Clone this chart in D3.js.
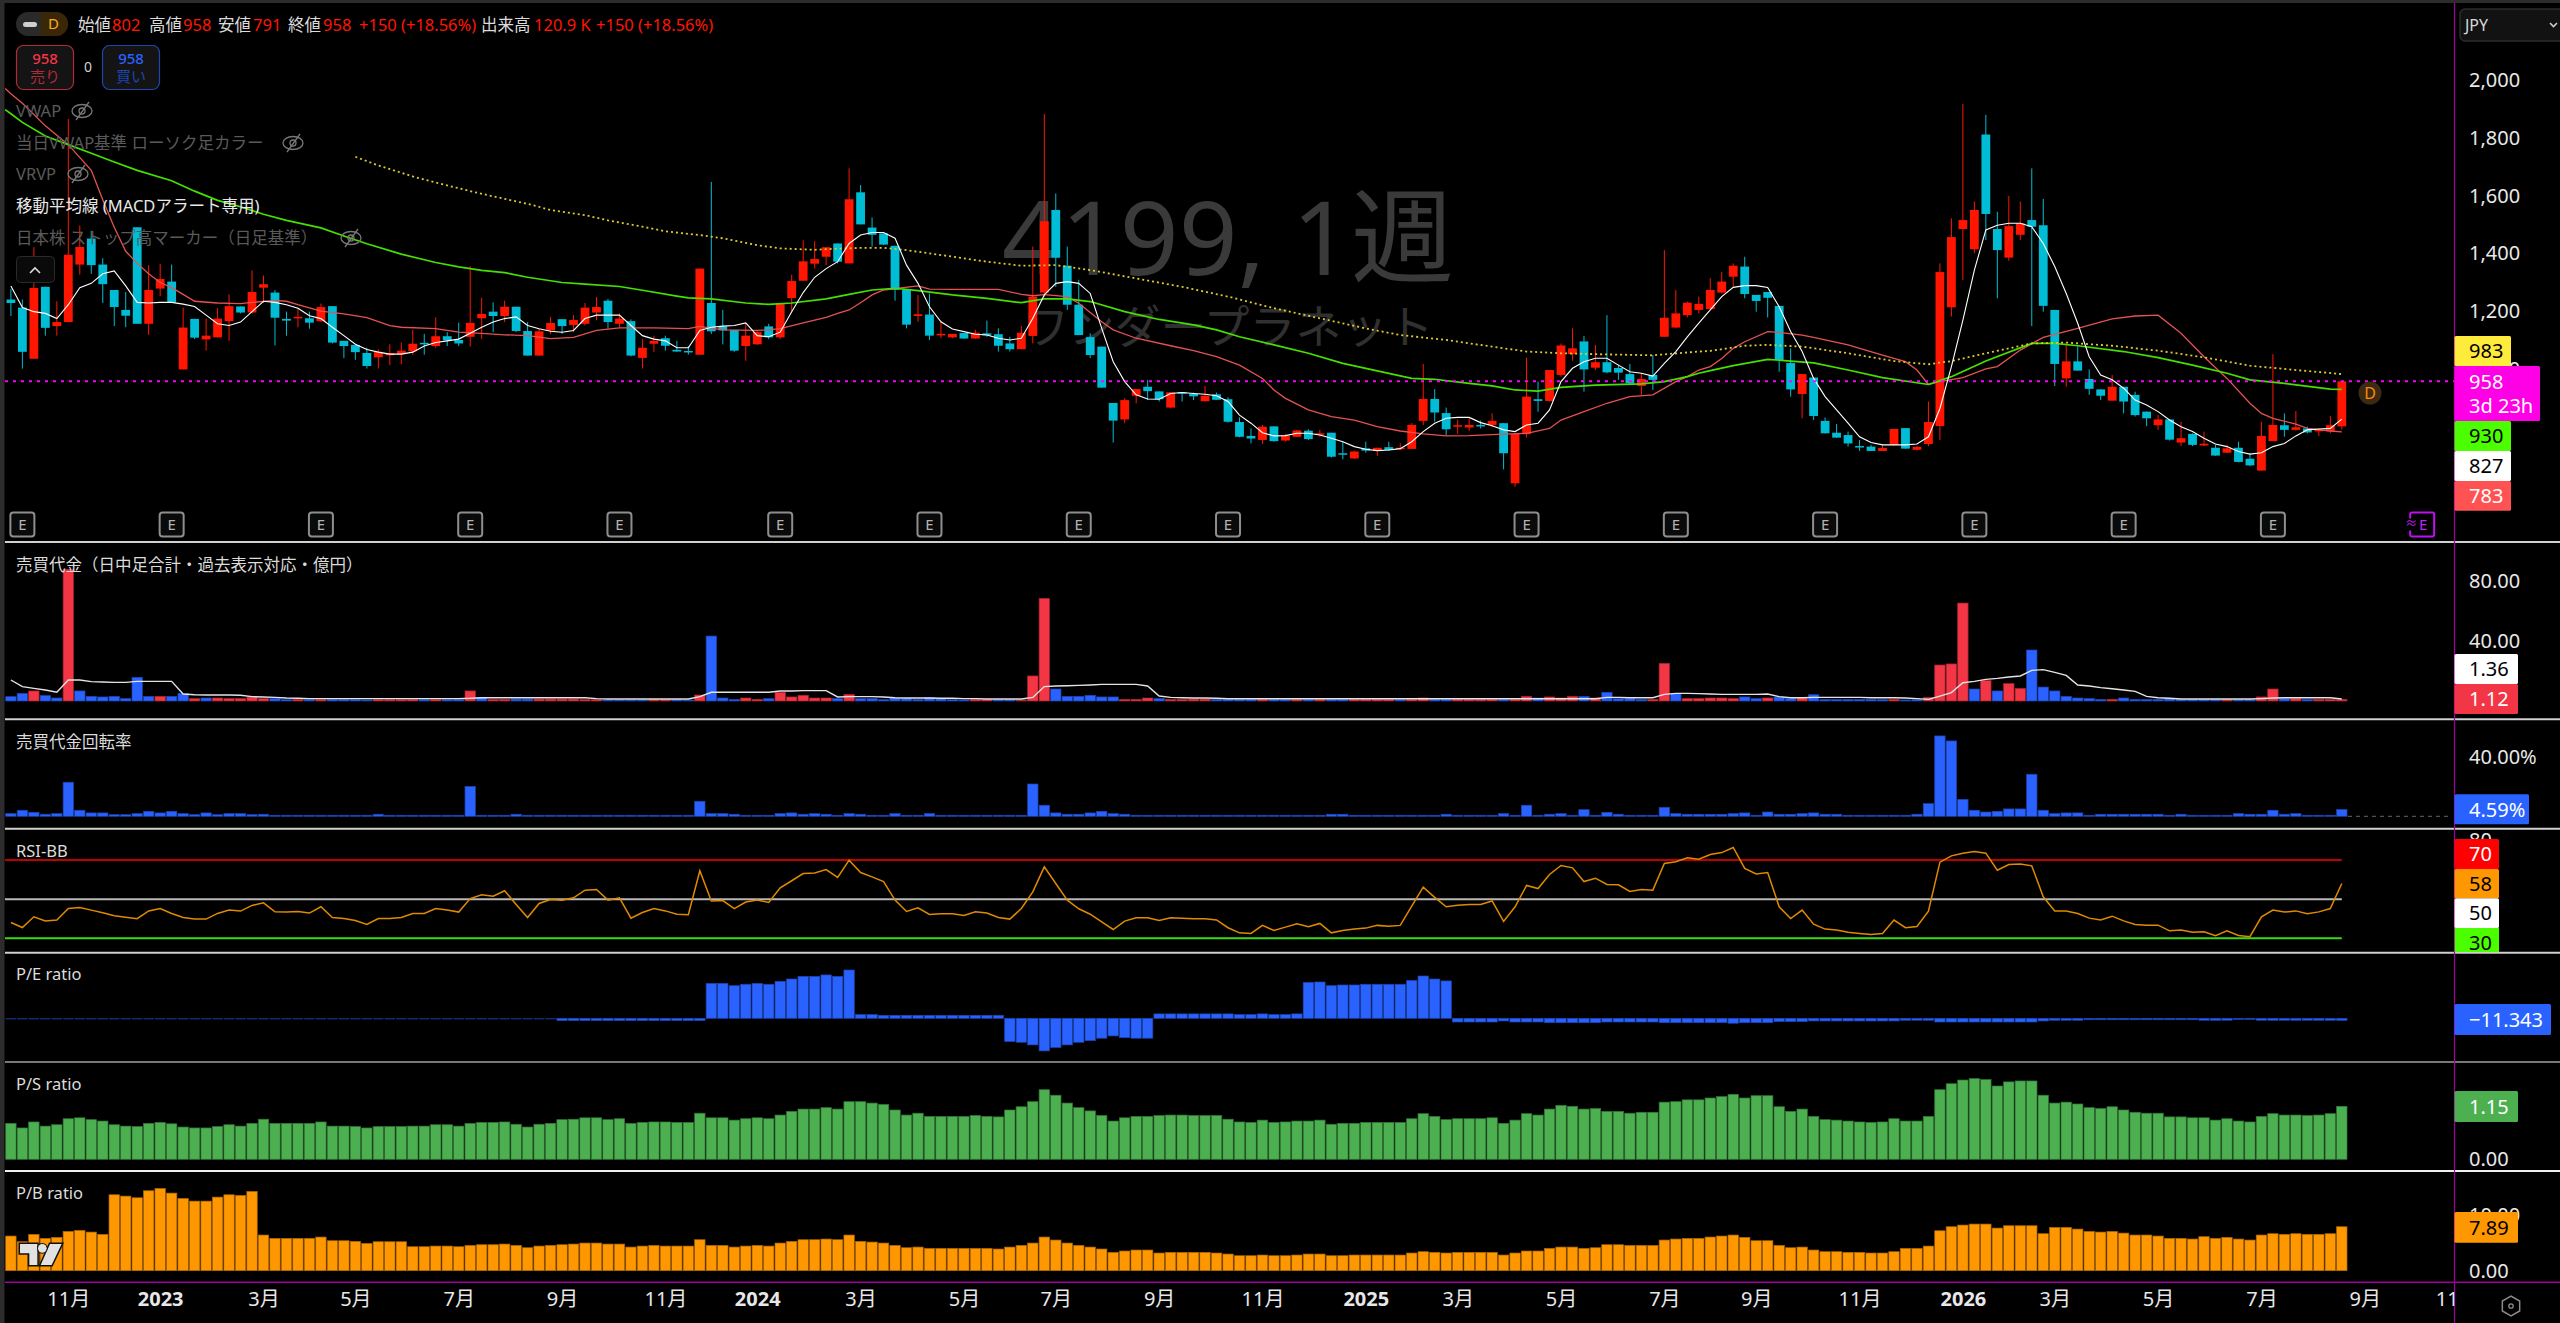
<!DOCTYPE html>
<html>
<head>
<meta charset="utf-8">
<title>4199</title>
<script src="https://cdn.jsdelivr.net/npm/d3@7"></script>
<style>
  html, body { margin: 0; background: #000; overflow: hidden; }
  svg { display: block; }
  text { font-family: "Noto Sans", "Noto Sans CJK JP", sans-serif; }
</style>
</head>
<body>
<div id="container"></div>
<script>
/* DATA, one entry per weekly bar */
const open = [
  1241,1213,1036,1285,1149,1163,1362,1452,1362,1274,
  1205,1491,1157,1279,1303,999,1174,1103,1110,1166,
  1217,1196,1282,1265,1174,1176,1176,1166,1218,1098,
  1084,1056,1041,1048,1052,1062,1091,1080,1114,1101,
  1112,1176,1199,1184,1216,1132,1047,1134,1173,1153,
  1157,1196,1237,1157,1166,1039,1088,1107,1067,1063,
  1050,1229,1148,1136,1080,1086,1148,1110,1246,1306,
  1365,1389,1435,1366,1612,1490,1470,1427,1276,1184,
  1189,1118,1110,1125,1106,1124,1121,1089,1069,1115,
  1265,1551,1358,1223,1111,1078,883,826,908,939,
  923,867,920,914,889,913,896,817,769,755,
  802,753,766,787,773,780,709,691,726,717,
  730,723,724,821,897,848,801,798,807,807,
  813,605,775,896,890,980,1052,1096,1005,1024,
  1004,983,942,980,1112,1144,1187,1205,1208,1265,
  1320,1355,1257,1267,1219,1021,914,971,821,780,
  772,734,732,717,738,796,721,741,803,1214,
  1485,1415,1812,1485,1386,1465,1516,1498,1205,968,
  1027,966,930,891,939,911,853,806,826,746,
  776,736,728,711,728,690,649,751,806,790,
  795,785,785,802]
const high = [
  1277,1241,1422,1285,1235,1866,1497,1479,1384,1274,
  1267,1491,1360,1364,1362,1213,1174,1175,1211,1259,
  1217,1342,1324,1274,1199,1211,1199,1227,1218,1098,
  1084,1074,1068,1086,1092,1136,1122,1179,1128,1161,
  1356,1247,1231,1237,1216,1163,1140,1181,1173,1187,
  1229,1250,1243,1193,1172,1104,1116,1116,1098,1080,
  1348,1648,1205,1136,1160,1134,1157,1229,1327,1446,
  1443,1422,1435,1695,1637,1525,1470,1427,1276,1257,
  1262,1164,1122,1125,1136,1168,1141,1112,1149,1424,
  1883,1608,1424,1309,1124,1078,883,899,931,963,
  923,920,920,919,942,919,903,833,795,807,
  802,775,789,792,790,780,749,718,749,728,
  749,743,813,1018,931,867,826,830,822,847,
  813,776,1040,957,997,1089,1141,1115,1084,1187,
  1014,1018,986,1049,1412,1274,1234,1251,1315,1337,
  1366,1389,1257,1267,1219,1072,983,971,833,810,
  784,755,738,738,793,796,734,888,1366,1522,
  1918,1580,1880,1545,1600,1580,1695,1589,1205,1089,
  1078,999,930,980,939,922,853,841,826,818,
  778,784,738,738,749,709,818,1052,847,855,
  801,795,838,958]
const low = [
  1184,1002,1036,1116,1116,1163,1327,1330,1229,1149,
  1145,1157,1118,1253,1231,999,1104,1064,1110,1098,
  1193,1193,1229,1082,1116,1145,1140,1163,1089,1038,
  1032,1002,1002,1014,1017,1050,1050,1074,1080,1080,
  1078,1104,1128,1163,1128,1047,1047,1122,1122,1128,
  1151,1169,1140,1145,1044,1002,1060,1064,1060,1050,
  1050,1122,1086,1060,1029,1084,1104,1104,1199,1306,
  1348,1360,1366,1366,1501,1424,1430,1237,1141,1164,
  1101,1107,1107,1105,1105,1112,1061,1061,1069,1089,
  1251,1285,1205,1118,1038,936,746,813,882,893,
  888,864,888,893,888,893,815,764,743,741,
  749,750,766,755,766,694,688,689,711,700,
  717,720,724,807,818,772,776,787,795,799,
  653,593,764,853,888,974,1029,922,997,986,
  963,945,911,928,1112,1141,1179,1193,1208,1262,
  1285,1245,1199,1179,991,905,830,824,778,763,
  732,717,717,717,734,725,718,734,755,1182,
  1309,1401,1447,1245,1375,1447,1149,1199,942,939,
  995,911,893,891,847,836,803,790,753,734,
  734,734,700,709,677,665,649,751,766,787,
  778,769,778,791]
const close = [
  1229,1060,1281,1143,1163,1396,1423,1360,1294,1215,
  1185,1157,1274,1312,1231,1144,1109,1116,1175,1218,
  1196,1267,1294,1178,1168,1181,1161,1215,1092,1080,
  1059,1011,1060,1056,1064,1088,1086,1114,1100,1089,
  1160,1191,1184,1216,1132,1047,1131,1160,1149,1170,
  1213,1215,1163,1175,1047,1074,1098,1081,1061,1061,
  1348,1131,1134,1064,1116,1128,1110,1229,1305,1373,
  1381,1422,1372,1588,1501,1465,1431,1274,1154,1190,
  1116,1122,1122,1106,1126,1117,1081,1069,1126,1251,
  1512,1386,1223,1118,1049,936,822,893,931,924,
  896,920,916,906,908,894,818,766,760,801,
  751,770,788,758,778,697,704,715,718,728,
  720,728,807,897,850,792,806,807,804,821,
  709,776,905,890,997,1082,1072,999,1024,989,
  988,951,966,963,1178,1193,1230,1226,1274,1303,
  1358,1260,1236,1247,1032,930,983,838,778,763,
  743,730,717,727,793,725,731,817,1336,1457,
  1516,1551,1537,1412,1495,1505,1493,1219,1018,1027,
  995,932,908,939,888,841,830,826,756,761,
  738,742,701,726,679,667,769,807,790,799,
  781,790,806,958]

// moving averages
const maWhite = [
  1288,1213,1199,1193,1175,1223,1282,1297,1330,1340,
  1288,1231,1229,1231,1231,1225,1217,1187,1157,1151,
  1163,1199,1235,1231,1223,1211,1185,1175,1145,1116,
  1086,1068,1059,1052,1052,1059,1080,1092,1098,1104,
  1124,1145,1163,1175,1181,1151,1140,1131,1128,1134,
  1175,1187,1187,1187,1151,1116,1104,1098,1074,1074,
  1134,1145,1149,1151,1160,1116,1112,1128,1199,1265,
  1318,1348,1372,1435,1464,1473,1473,1453,1360,1297,
  1216,1164,1139,1130,1121,1118,1107,1101,1107,1176,
  1257,1297,1303,1297,1262,1141,1026,957,911,897,
  896,916,919,916,913,908,888,841,813,780,
  769,770,778,778,772,761,749,732,723,718,
  720,725,749,784,813,830,833,833,815,804,
  790,784,807,813,859,957,1003,1026,1038,1038,
  1014,991,986,976,1020,1061,1112,1159,1205,1251,
  1283,1289,1289,1283,1216,1130,1061,968,905,859,
  813,766,746,738,738,738,741,766,864,1009,
  1170,1343,1482,1498,1505,1505,1493,1435,1355,1262,
  1159,1043,980,963,934,893,876,853,824,801,
  784,761,741,732,715,706,711,732,743,769,
  790,793,795,827]
const maRedIdx = [-0.5,0,1,3,5,7,8,9,10,11,12,13,14,15,16,18,20,21,23,24,25,27,29,31,33,34,37,39,41,43,45,47,49,51,53,56,59,60,62,65,66,67,69,71,72,
  73,74,75,76,79,80,82,86,88,89,90,92,93,95,96,98,101,103,105,107,109,110,111,113,115,117,119,121,123,125,127,130,132,134,135,137,139,141,143,145,146,147,
  148,149,150,151,153,154,156,157,160,163,165,166,167,168,170,172,173,175,177,180,183,185,187,189,191,193,195,196,197,199,200,202,203]
const maRed = [1971,1953,1920,1842,1777,1688,1586,1491,1408,1366,1330,1300,1282,1259,1235,1229,1227,1231,1238,1235,1223,1201,1191,1178,1151,1145,1140,1128,1124,1119,1116,1106,1110,1134,1143,1143,1140,1148,1136,1134,1136,1140,1160,1179,1193,
  1205,1230,1257,1274,1288,1277,1276,1276,1259,1254,1258,1251,1228,1164,1136,1107,1081,1064,1043,1014,968,928,899,859,836,824,801,786,776,769,770,775,778,795,824,853,882,905,911,957,974,997,
  1009,1037,1072,1095,1130,1127,1118,1110,1084,1049,1026,997,947,957,971,1001,1009,1066,1110,1141,1174,1184,1187,1124,1043,968,882,847,830,810,795,786,783]
const maGreenIdx = [-0.5,0,1,3,5,7,9,11,14,16,18,20,22,24,27,29,31,34,37,39,41,43,45,48,50,53,55,58,59,61,64,66,68,71,73,
  75,77,79,82,85,88,90,92,94,97,100,103,105,107,110,113,116,119,122,124,127,129,131,133,135,138,142,144,146,147,
  148,150,153,157,160,163,167,169,172,176,178,180,184,187,190,193,195,198,202,203]
const maGreen = [1898,1884,1854,1807,1777,1747,1717,1688,1652,1616,1584,1562,1536,1515,1489,1461,1434,1398,1369,1354,1342,1334,1318,1300,1294,1286,1273,1253,1247,1243,1229,1224,1229,1243,1259,
  1274,1280,1272,1257,1245,1230,1243,1243,1234,1199,1172,1153,1136,1112,1084,1055,1020,994,968,965,951,942,928,924,937,945,949,957,974,986,
  995,1012,1034,1022,997,971,947,974,1028,1089,1089,1081,1061,1040,1014,986,963,951,931,930]
const maYellowIdx = [30,32,35,37,40,42,45,47,50,52,55,57,60,62,65,67,70,72,
  73,74,76,78,81,85,88,91,94,98,102,106,110,114,118,121,125,129,132,135,139,143,147,
  148,151,153,156,160,164,167,169,172,176,179,183,187,191,195,199,203]
const maYellow = [1735,1705,1667,1646,1616,1598,1572,1551,1533,1515,1493,1477,1464,1453,1429,1418,1413,1417,
  1418,1420,1420,1412,1395,1372,1358,1360,1343,1314,1285,1251,1211,1176,1141,1118,1101,1078,1061,1055,1051,1048,1061,
  1063,1081,1084,1078,1055,1028,1017,1028,1055,1089,1092,1081,1064,1041,1012,997,983]

// trading value (oku yen), b = blue, r = red
const volume = [
  2.9,5.1,6.7,3.6,2.0,87.8,6.7,3.1,2.7,3.1,
  1.6,15.8,3.1,3.1,3.1,5.1,1.6,2.0,2.0,1.6,
  1.6,2.7,1.6,1.6,0.9,1.1,1.1,0.9,1.1,1.1,
  0.9,0.7,0.9,0.9,0.9,1.1,0.9,0.9,0.9,1.1,
  6.7,2.4,1.1,1.1,1.3,1.3,1.3,1.3,1.3,1.3,
  0.9,0.9,0.7,0.7,0.7,0.7,0.9,0.9,0.9,0.7,
  4.0,43.3,2.0,1.1,2.0,1.1,1.6,5.8,2.7,3.8,
  2.0,2.0,1.6,4.4,1.6,1.6,0.9,2.0,1.6,1.1,
  2.4,1.6,0.9,0.7,1.1,1.1,0.9,0.9,0.7,16.7,
  68.4,8.0,3.1,3.1,3.8,2.7,2.7,1.1,1.1,2.0,
  1.6,1.1,1.1,1.3,1.3,1.1,1.1,1.1,1.1,1.1,
  1.1,1.1,1.1,1.1,1.1,1.1,1.1,1.1,1.1,1.1,
  1.1,0.9,1.1,2.0,1.1,1.1,1.1,1.1,1.1,1.1,
  1.1,1.1,3.1,2.0,2.7,2.0,3.1,3.1,2.0,5.8,
  1.6,1.6,1.1,1.1,25.1,5.1,1.6,1.6,2.0,2.0,
  1.6,2.7,1.6,2.0,2.7,1.6,2.0,4.2,1.1,1.1,
  1.1,1.1,1.1,0.9,1.1,0.7,0.9,2.4,24.0,24.7,
  65.3,8.0,13.6,6.7,11.6,8.4,34.0,9.3,6.7,3.1,
  2.0,1.6,1.1,1.1,2.0,1.1,1.1,1.1,1.6,1.1,
  1.1,1.1,1.1,1.1,0.9,0.9,2.7,8.0,1.6,1.6,
  1.1,1.1,1.1,1.12]
const volumeSide = (
  "bbrbbrbbbb" + "bbbrbbrbrr" + "rrrbbrbrbb" + "bbrrrrbrbb" + "rbrrbbrrrr" +
  "rrbbbbrrbb" + "rbbbrrbrrr" + "rrbrbbbbbb" + "bbbbrrbbrr" + "rbbbbbbrrr" +
  "brrrrbbbbr" + "bbrbrbbrrr" + "rbrrbbrrrr" + "brrbrrrbrb" + "bbbrrbrrrr" +
  "rbbrbbrbbb" + "bbbbrbbrrr" + "rbrbrrbbbb" + "bbbrbbbbbb" + "bbbrbbrrbr" +
  "brrr").split("")
const volumeMa = [
  14.0,9.6,8.4,7.3,5.8,14.0,14.0,12.9,12.7,12.4,
  12.4,13.1,13.1,13.1,13.1,4.7,4.2,4.0,4.0,4.0,
  3.8,2.9,2.7,2.4,2.0,1.8,1.6,1.6,1.6,1.6,
  1.6,1.6,1.6,1.6,1.6,1.6,1.6,1.6,1.6,1.6,
  1.8,2.2,2.2,2.2,2.2,2.2,2.2,2.2,2.2,2.2,
  2.2,1.6,1.3,1.3,1.3,1.3,1.3,1.3,1.3,1.3,
  2.9,5.8,5.8,5.8,5.8,5.8,5.8,6.7,6.7,6.9,
  6.9,6.9,2.7,2.9,2.9,2.9,2.7,2.2,2.0,2.0,
  2.0,1.8,1.8,1.6,1.6,1.3,1.3,1.3,1.3,2.4,
  9.6,10.0,10.2,10.4,10.7,11.1,11.1,11.1,11.1,10.0,
  3.3,2.4,2.2,2.0,2.0,1.8,1.5,1.5,1.5,1.5,
  1.5,1.5,1.5,1.5,1.5,1.5,1.5,1.5,1.5,1.5,
  1.5,1.5,1.5,1.5,1.5,1.5,1.5,1.5,1.5,1.5,
  1.5,1.5,1.5,1.5,1.5,1.5,1.5,1.5,1.5,2.4,
  2.4,2.2,2.2,2.2,4.4,5.1,5.1,4.9,4.7,4.4,
  4.4,4.4,4.4,4.7,2.9,2.2,2.2,2.4,2.4,2.4,
  2.4,2.4,2.2,2.2,2.2,2.0,1.6,1.1,3.3,5.6,
  12.2,13.1,14.4,15.1,16.0,16.7,20.4,20.9,19.1,17.1,
  10.7,10.0,8.9,8.2,7.3,6.4,3.1,2.2,1.8,1.3,
  1.3,1.3,1.3,1.3,1.3,1.3,1.6,2.0,2.2,2.2,
  2.2,2.2,2.2,1.36]

// turnover rate (%)
const turnover = [
  1.8,4.1,2.7,1.4,1.8,23.1,4.1,2.3,2.3,1.1,
  1.1,1.8,3.4,2.3,3.4,1.8,1.1,2.3,1.1,1.8,
  1.8,1.1,1.4,0.7,0.7,0.7,0.7,0.7,0.7,0.7,
  0.7,0.7,1.4,0.7,0.7,0.7,0.7,0.7,0.7,0.7,
  20.3,0.7,0.7,0.7,1.4,0.7,0.7,0.7,0.7,0.7,
  0.7,0.7,0.7,0.7,0.7,0.7,0.7,0.7,0.7,0.7,
  10.2,1.8,1.8,1.4,0.7,0.7,0.7,1.8,2.3,1.4,
  1.8,1.4,0.7,1.8,1.4,0.7,0.7,1.8,0.7,0.7,
  1.8,0.7,0.7,0.7,0.7,0.7,0.7,0.7,0.7,21.9,
  7.5,2.3,1.4,1.4,2.3,3.4,1.8,1.4,0.7,0.7,
  0.7,0.7,0.7,0.7,0.7,0.7,0.7,0.7,0.7,0.7,
  0.7,0.7,0.7,0.7,0.7,1.4,1.4,0.7,0.7,0.7,
  0.7,0.7,0.7,0.7,0.7,1.4,0.7,0.7,0.7,0.7,
  1.8,0.7,7.5,0.7,1.4,1.8,0.7,4.5,0.7,2.7,
  1.4,0.7,0.7,0.7,6.1,1.8,1.4,1.4,1.4,1.4,
  1.8,2.3,0.7,2.9,1.4,1.4,1.8,2.3,1.4,1.4,
  0.7,0.7,0.7,0.7,0.7,0.7,1.4,8.6,54.5,51.1,
  11.5,4.1,2.9,3.4,5.0,5.0,28.5,4.1,1.8,2.3,
  2.3,0.7,1.4,1.4,1.4,1.4,1.4,1.4,0.7,1.4,
  0.7,0.7,0.7,0.7,1.8,1.4,1.4,4.1,1.4,1.8,
  0.7,0.7,0.7,4.59]

const rsi = [
  38.1,35.5,41.0,38.8,39.3,45.2,45.7,44.4,43.0,41.5,
  40.8,40.0,44.0,45.2,42.7,40.6,39.8,39.8,42.7,44.4,
  43.9,46.8,48.1,43.5,43.4,43.7,42.9,46.1,40.6,40.1,
  39.1,37.1,40.1,40.1,40.6,42.7,42.7,45.2,44.4,43.4,
  50.3,52.2,51.5,54.3,47.3,40.6,47.8,49.8,49.5,50.7,
  54.6,54.9,49.5,50.7,40.3,43.2,45.2,44.0,42.3,42.0,
  64.5,49.1,49.3,45.2,48.5,49.5,48.3,55.8,59.4,63.1,
  63.4,65.1,61.1,69.9,63.6,61.4,59.0,49.5,43.7,45.6,
  42.2,42.5,42.5,41.7,43.5,42.9,40.6,39.8,45.2,53.7,
  66.5,58.0,49.5,45.1,42.3,38.4,34.5,38.8,40.5,40.5,
  39.1,40.5,40.3,40.0,40.0,39.4,35.4,32.8,32.5,36.6,
  34.0,35.7,37.4,35.9,37.6,32.8,34.0,34.7,35.2,36.6,
  36.2,36.6,46.4,56.1,50.9,46.1,46.9,47.3,47.3,49.1,
  38.6,46.1,57.0,55.4,62.6,67.2,66.0,59.0,60.7,57.5,
  57.3,53.9,54.9,54.6,68.2,69.1,71.1,70.4,72.8,73.8,
  76.4,65.7,62.9,63.6,46.1,40.1,44.4,37.2,34.7,34.2,
  33.1,32.5,32.0,32.5,39.3,35.4,36.0,43.9,68.9,72.1,
  73.5,74.3,73.5,64.8,67.7,67.9,67.0,51.2,43.9,43.9,
  42.7,40.3,39.4,41.3,38.9,37.1,36.7,36.7,33.8,34.2,
  33.1,33.3,31.3,33.8,31.4,30.8,41.0,44.4,43.4,44.0,
  42.5,43.5,45.2,58.0]
const rsiLevels = [70, 50, 30]

const peRatio = [
  0,0,0,0,0,0,0,0,0,0,
  0,0,0,0,0,0,0,0,0,0,
  0,0,0,0,0,0,0,0,0,0,
  0,0,0,0,0,0,0,0,0,0,
  0,0,0,0,0,0,0,0,-13.2,-13.2,
  -13.2,-13.2,-13.2,-13.2,-13.2,-13.2,-13.2,-13.2,-13.2,-13.2,
  -13.2,198,198,185,193,198,193,210,223,238,
  238,246,238,274,21,21,17,17,17,17,
  17,17,17,17,17,17,17,-132,-136,-151,
  -185,-166,-151,-136,-127,-113,-100,-110,-113,-113,
  25,25,25,25,25,25,25,21,21,25,
  21,21,25,204,206,185,189,189,193,193,
  193,193,215,240,223,212,-21,-21,-21,-21,
  -15,-21,-21,-21,-25,-25,-25,-25,-25,-21,
  -21,-21,-21,-21,-25,-25,-25,-25,-25,-25,
  -28,-25,-25,-25,-19,-19,-19,-15,-15,-15,
  -15,-15,-15,-15,-15,-11,-11,-11,-21,-21,
  -21,-21,-21,-21,-21,-21,-21,-15,-11,-11,
  -11,-8,-8,-8,-8,-8,-8,-8,-8,-8,
  -8,-11,-11,-11,-6,-6,-11,-11,-11,-11,
  -11,-11,-11,-11.343]
const psRatio = [
  .78,.68,.81,.72,.75,.88,.90,.86,.83,.75,
  .72,.71,.78,.80,.77,.70,.68,.68,.71,.75,
  .72,.78,.87,.78,.78,.78,.78,.81,.72,.72,
  .71,.68,.71,.71,.71,.72,.72,.75,.75,.72,
  .78,.80,.80,.81,.76,.70,.76,.78,.86,.87,
  .90,.90,.86,.88,.78,.80,.81,.81,.80,.80,
  1.00,.90,.90,.85,.88,.90,.88,.96,1.04,1.09,
  1.09,1.12,1.09,1.25,1.25,1.22,1.19,1.07,.96,1.00,
  .93,.93,.93,.93,.95,.93,.92,1.07,1.14,1.25,
  1.51,1.39,1.22,1.12,1.05,.95,.83,.90,.93,.93,
  .95,.96,.96,.95,.95,.95,.87,.81,.80,.85,
  .80,.81,.83,.83,.85,.76,.78,.78,.80,.80,
  .80,.80,.88,.99,.93,.86,.88,.88,.88,.90,
  .78,.85,.99,.96,1.09,1.17,1.15,1.09,1.10,1.04,
  1.04,1.00,1.02,1.02,1.24,1.25,1.29,1.29,1.33,1.36,
  1.41,1.33,1.38,1.38,1.14,1.04,1.09,.93,.86,.85,
  .83,.81,.80,.81,.88,.83,.83,.93,1.51,1.64,
  1.72,1.75,1.73,1.59,1.68,1.70,1.70,1.39,1.22,1.24,
  1.20,1.12,1.10,1.14,1.07,1.02,1.00,1.00,.92,.92,
  .90,.90,.85,.88,.83,.81,.93,.99,.96,.96,
  .95,.96,.99,1.15]
const pbRatio = [
  6.22,5.20,6.52,5.80,5.98,7.05,7.23,6.93,6.52,13.63,
  13.39,13.09,14.35,14.76,13.93,12.97,12.49,12.49,13.21,13.63,
  13.51,14.23,6.40,5.80,5.80,5.80,5.80,6.04,5.38,5.38,
  5.26,4.90,5.20,5.20,5.20,4.30,4.30,4.42,4.42,4.30,
  4.54,4.66,4.66,4.78,4.54,4.12,4.42,4.54,4.66,4.78,
  4.96,4.96,4.78,4.78,4.24,4.42,4.54,4.42,4.42,4.42,
  5.56,4.54,4.54,4.24,4.42,4.54,4.42,4.96,5.26,5.56,
  5.56,5.68,5.56,6.40,5.26,5.14,4.96,4.54,4.12,4.24,
  4.00,4.00,4.00,4.00,4.00,4.00,3.89,4.24,4.54,4.96,
  6.04,5.50,4.96,4.54,4.24,3.89,3.29,3.53,3.71,3.71,
  3.17,3.29,3.29,3.29,3.29,3.17,2.99,2.69,2.69,2.81,
  2.69,2.69,2.81,2.99,2.99,2.69,2.69,2.81,2.81,2.81,
  2.81,2.81,3.17,3.41,3.29,3.17,3.29,3.29,3.29,3.29,
  2.81,3.17,3.53,3.53,4.00,4.24,4.24,4.00,4.12,4.66,
  4.66,4.54,4.54,4.54,5.50,5.68,5.80,5.80,6.04,6.22,
  6.40,5.98,5.38,5.38,4.54,4.12,4.24,3.71,3.41,3.41,
  3.29,3.29,3.17,3.17,3.41,4.00,4.00,4.42,7.17,7.89,
  8.19,8.37,8.37,7.65,8.07,8.07,8.07,6.64,7.77,7.77,
  7.47,7.05,6.93,7.05,6.75,6.40,6.40,6.22,5.80,5.80,
  5.68,6.10,5.80,5.98,5.68,5.50,6.40,6.64,6.52,6.64,
  6.52,6.52,6.64,7.89]

// time axis and earnings markers (bar numbers)
const timeTicks = [5,13,22,30,39,48,57,65,74,83,91,100,109,118,126,135,144,152,161,170,178,187,196,205,213]
const timeLabels = ["11月","2023","3月","5月","7月","9月","11月","2024","3月","5月","7月","9月","11月","2025","3月","5月","7月","9月","11月","2026","3月","5月","7月","9月","11月"]
const earnings = [1,14,27,40,53,67,80,93,106,119,132,145,158,171,184,197]
const nextEarnings = 210
const priceTicks = [1000,1200,1400,1600,1800,2000]

const width = 2560, height = 1323, axisX = 2454.5, bars = d3.range(204)

/* COLORS */
const UP = "#ff1500", DOWN = "#00bcd4", BLUE = "#2962ff", PINK = "#f23645",
  LIME = "#4cff00", ORANGE = "#ff9800", GREY = "#5a5a5a", LABEL = "#dcdcdc"

const svg = d3.select("#container").append("svg")
  .attr("width", width)
  .attr("height", height)
  .style("background-color", "#000")

/* SCALES */
const x = d3.scaleLinear().domain([0, 203]).range([10.9, 2341.8])
const yPrice = d3.scaleLinear().domain([958, 2000]).range([381.3, 80.2])
const yVolume = d3.scaleLinear().domain([0, 80]).range([701, 581])
const yTurnover = d3.scaleLinear().domain([0, 40]).range([816.3, 757.3])
const yRsi = d3.scaleLinear().domain([30, 70]).range([938.3, 860])
const yPe = d3.scaleLinear().domain([0, 274]).range([1018.3, 970])
const yPs = d3.scaleLinear().domain([0, 1.15]).range([1159.3, 1106.3])
const yPb = d3.scaleLinear().domain([0, 10]).range([1270.7, 1215])

/* WATERMARK */
svg.append("text").attr("x", 1228).attr("y", 275).attr("text-anchor", "middle")
  .attr("font-size", 103).attr("fill", "#3a3a3a").text("4199, 1週")
svg.append("text").attr("x", 1228).attr("y", 343).attr("text-anchor", "middle")
  .attr("font-size", 46).attr("fill", "#303030").text("ワンダープラネット")

/* CANDLES */
const candleColor = i => close[i] >= open[i] ? UP : DOWN
svg.append("g").selectAll("line").data(bars).join("line")
  .attr("x1", i => x(i)).attr("x2", i => x(i))
  .attr("y1", i => yPrice(high[i])).attr("y2", i => yPrice(low[i]))
  .attr("stroke", candleColor).attr("stroke-width", 1)
svg.append("g").selectAll("rect").data(bars).join("rect")
  .attr("x", i => x(i) - 4.4).attr("width", 8.8)
  .attr("y", i => yPrice(Math.max(open[i], close[i])))
  .attr("height", i => Math.max(1.5, Math.abs(yPrice(open[i]) - yPrice(close[i]))))
  .attr("fill", candleColor)

// lines through read points
function drawLine(idx, values, y, color, w, dash) {
  const line = d3.line().x((d, k) => x(idx[k])).y(d => y(d))
  svg.append("path").datum(values)
    .attr("d", line).attr("fill", "none")
    .attr("stroke", color).attr("stroke-width", w)
    .attr("stroke-dasharray", dash || null)
}
drawLine(maRedIdx, maRed, yPrice, "#e45252", 1.3)
drawLine(maGreenIdx, maGreen, yPrice, "#46e000", 1.7)
drawLine(maYellowIdx, maYellow, yPrice, "#e0c830", 1.8, "2 3")
drawLine(bars, maWhite, yPrice, "#ffffff", 1.1)

// last price line
svg.append("line").attr("x1", 5).attr("x2", axisX)
  .attr("y1", yPrice(958)).attr("y2", yPrice(958))
  .attr("stroke", "#ff00ff").attr("stroke-width", 2).attr("stroke-dasharray", "3 5")

/* EARNINGS MARKERS */
const eGroup = svg.append("g").selectAll("g").data(earnings).join("g")
  .attr("transform", d => `translate(${x(d)},524.5)`)
eGroup.append("rect").attr("x", -12).attr("y", -12).attr("width", 24).attr("height", 24)
  .attr("rx", 3).attr("fill", "#0a0a0a").attr("stroke", "#8e8e8e").attr("stroke-width", 2)
eGroup.append("text").attr("text-anchor", "middle").attr("dy", "0.36em")
  .attr("font-size", 15).attr("fill", "#b4b4b4").text("E")
const eNext = svg.append("g").attr("transform", `translate(${x(nextEarnings)},524.5)`)
eNext.append("rect").attr("x", -12).attr("y", -12).attr("width", 24).attr("height", 24)
  .attr("rx", 2).attr("fill", "#000").attr("stroke", "#c010f0").attr("stroke-width", 2)
eNext.append("rect").attr("x", -15).attr("y", -6).attr("width", 6).attr("height", 12).attr("fill", "#000")
eNext.append("text").attr("x", 1).attr("text-anchor", "middle").attr("dy", "0.36em")
  .attr("font-size", 15).attr("fill", "#c020f0").text("E")
eNext.append("text").attr("x", -11).attr("text-anchor", "middle").attr("dy", "0.3em")
  .attr("font-size", 12).attr("fill", "#c020f0").text("≈")

/* LOWER PANELS */
function drawBars(values, y, color) {
  svg.append("g").selectAll("rect").data(bars).join("rect")
    .attr("x", i => x(i) - 5.2).attr("width", 10.4)
    .attr("y", i => Math.min(y(0), y(values[i])))
    .attr("height", i => Math.max(1, Math.abs(y(values[i]) - y(0))))
    .attr("fill", i => color(i))
    .attr("fill-opacity", i => values[i] === 0 ? 0.65 : 1)
    .attr("stroke", i => d3.color(color(i)).darker(1.1))
    .attr("stroke-width", i => values[i] === 0 ? 0 : 0.7)
}
drawBars(volume, yVolume, i => volumeSide[i] === "r" ? PINK : BLUE)
drawLine(bars, volumeMa, yVolume, "#e4e4e4", 1.4)
drawBars(turnover, yTurnover, () => BLUE)
drawBars(peRatio, yPe, () => BLUE)
drawBars(psRatio, yPs, () => "#4caf50")
drawBars(pbRatio, yPb, () => ORANGE)

svg.append("line").attr("x1", 2348).attr("x2", 2452)
  .attr("y1", yTurnover(0)).attr("y2", yTurnover(0))
  .attr("stroke", "#666").attr("stroke-dasharray", "4 4")

// RSI levels and line
const levelColor = { 70: "#c00000", 50: "#b8b8b8", 30: "#3cd810" }
svg.append("g").selectAll("line").data(rsiLevels).join("line")
  .attr("x1", 5).attr("x2", x(203))
  .attr("y1", d => yRsi(d)).attr("y2", d => yRsi(d))
  .attr("stroke", d => levelColor[d]).attr("stroke-width", 2)
drawLine(bars, rsi, yRsi, "#e08a00", 1.5)

/* LOGO */
const logo = svg.append("g").attr("transform", "translate(0,1225) scale(0.3333)")
logo.append("path").attr("d", "M60,57H112V120H88V85H60Z M150,57H185L155,120H122Z")
  .attr("fill", "#e2e2e2").attr("stroke", "#111").attr("stroke-width", 9).attr("paint-order", "stroke")
logo.append("circle").attr("cx", 127).attr("cy", 70).attr("r", 13)
  .attr("fill", "#e2e2e2").attr("stroke", "#111").attr("stroke-width", 6).attr("paint-order", "stroke")

/* FRAME */
const separators = [[542, "#d0d0d0"], [719.3, "#d0d0d0"], [828.7, "#d0d0d0"], [952.7, "#d0d0d0"], [1062, "#777"], [1171, "#f0f0f0"]]
svg.append("g").selectAll("line").data(separators).join("line")
  .attr("x1", 5).attr("x2", width)
  .attr("y1", d => d[0]).attr("y2", d => d[0])
  .attr("stroke", d => d[1]).attr("stroke-width", 2)
svg.append("rect").attr("width", width).attr("height", 3).attr("fill", "#2c2c2c")
svg.append("rect").attr("width", 4.5).attr("height", height).attr("fill", "#2c2c2c")
svg.append("line").attr("x1", 5).attr("x2", width).attr("y1", 1282.3).attr("y2", 1282.3)
  .attr("stroke", "#a000a0").attr("stroke-width", 1.5)
svg.append("line").attr("x1", axisX).attr("x2", axisX).attr("y1", 3).attr("y2", height)
  .attr("stroke", "#a000a0").attr("stroke-width", 1.2)

/* AXES */
function rightAxis(y, ticks, fmt) {
  const g = svg.append("g").attr("transform", "translate(2469,0)")
    .call(d3.axisRight(y).tickValues(ticks).tickFormat(fmt).tickSize(0).tickPadding(0))
  g.select(".domain").remove()
  g.selectAll("text").attr("font-size", 20).attr("font-family", '"Noto Sans"').attr("fill", "#e8e8e8")
}
rightAxis(yPrice, priceTicks, d3.format(","))
rightAxis(yVolume, [40, 80], d3.format(".2f"))
rightAxis(yTurnover, [40], d => d.toFixed(2) + "%")
rightAxis(yRsi, [80], d => d)
rightAxis(yPs, [0], d3.format(".2f"))
rightAxis(yPb, [0, 10], d3.format(".2f"))

// clip is in the axis group's own coordinates
svg.append("clipPath").attr("id", "time-clip").append("rect")
  .attr("x", 0).attr("y", -9).attr("width", axisX).attr("height", 40)
const timeAxis = svg.append("g").attr("transform", "translate(0,1292)").attr("clip-path", "url(#time-clip)")
  .call(d3.axisBottom(x).tickValues(timeTicks).tickFormat((d, k) => timeLabels[k]).tickSize(0).tickPadding(0))
timeAxis.select(".domain").remove()
timeAxis.selectAll("text").attr("font-size", 20).attr("fill", "#e8e8e8")
  .attr("font-family", '"Noto Sans", "Noto Sans CJK JP"')
  .attr("font-weight", (d, k) => timeLabels[k].length === 4 ? 700 : 400)

/* PRICE TAGS */
function tag(x1, y1, y2, fill, color, label) {
  svg.append("rect").attr("x", axisX).attr("y", y1).attr("width", x1 - axisX).attr("height", y2 - y1)
    .attr("rx", 1.5).attr("fill", fill)
  svg.append("text").attr("x", 2469).attr("y", (y1 + y2) / 2).attr("dy", "0.36em")
    .attr("font-size", 20).attr("fill", color).text(label)
}
tag(2511, 336, 366, "#ffeb3b", "#000", "983")
tag(2511, 421, 451, LIME, "#000", "930")
tag(2511, 451, 481, "#fff", "#000", "827")
tag(2511, 481, 510.7, "#ff5252", "#fff", "783")
tag(2540, 366, 421, "#ff00e6", "#fff", "")
svg.append("text").attr("x", 2469).attr("y", 381.7).attr("dy", "0.36em").attr("font-size", 20).attr("fill", "#fff").text("958")
svg.append("text").attr("x", 2469).attr("y", 406).attr("dy", "0.36em").attr("font-size", 20).attr("fill", "#fff").text("3d 23h")
tag(2518, 654, 684, "#fff", "#000", "1.36")
tag(2518, 684, 714, PINK, "#fff", "1.12")
tag(2529, 794.3, 824.3, BLUE, "#fff", "4.59%")
tag(2499, 839, 869, "#ff0000", "#fff", "70")
tag(2499, 869, 898.3, ORANGE, "#000", "58")
tag(2499, 898.3, 928, "#fff", "#000", "50")
svg.append("clipPath").attr("id", "rsi-clip").append("rect")
  .attr("x", axisX).attr("y", 928).attr("width", 60).attr("height", 24)
const rsi30 = svg.append("g").attr("clip-path", "url(#rsi-clip)")
rsi30.append("rect").attr("x", axisX).attr("y", 928).attr("width", 2499 - axisX).attr("height", 30).attr("fill", LIME)
rsi30.append("text").attr("x", 2469).attr("y", 943).attr("dy", "0.36em").attr("font-size", 20).attr("fill", "#000").text("30")
tag(2551, 1004, 1035, BLUE, "#fff", "−11.343")
tag(2518, 1091, 1122, "#4caf50", "#fff", "1.15")
tag(2518, 1212, 1242.7, ORANGE, "#000", "7.89")

// currency box
svg.append("rect").attr("x", 2460).attr("y", 9).attr("width", 110).attr("height", 32).attr("rx", 5)
  .attr("fill", "#121212").attr("stroke", "#2c2c2c").attr("stroke-width", 1.5)
svg.append("text").attr("x", 2465).attr("y", 25).attr("dy", "0.36em").attr("font-size", 16).attr("fill", "#d8d8d8").text("JPY")
svg.append("path").attr("d", "M2550,23l3.5,3.5l3.5,-3.5").attr("fill", "none").attr("stroke", "#ccc").attr("stroke-width", 1.6)

// settings icon
svg.append("polygon").attr("points", d3.range(6).map(k => {
  const a = Math.PI / 6 + k * Math.PI / 3
  return [2511 + 10 * Math.cos(a), 1306 + 10 * Math.sin(a)].join(",")
}).join(" ")).attr("fill", "none").attr("stroke", "#8a8a8a").attr("stroke-width", 1.5)
svg.append("circle").attr("cx", 2511).attr("cy", 1306).attr("r", 2.2)
  .attr("fill", "none").attr("stroke", "#8a8a8a").attr("stroke-width", 1.3)

// session marker
svg.append("circle").attr("cx", 2370).attr("cy", 393).attr("r", 11.5).attr("fill", "#3c2a14")
svg.append("text").attr("x", 2370).attr("y", 393).attr("dy", "0.36em").attr("text-anchor", "middle")
  .attr("font-size", 16).attr("fill", "#ff8c00").text("D")

/* HEADER */
svg.append("rect").attr("x", 16).attr("y", 12).attr("width", 52).attr("height", 24).attr("rx", 12).attr("fill", "#2a2a2a")
svg.append("path").attr("d", "M41,12H56a12,12 0 0 1 0,24H41Z").attr("fill", "#3a2708")
svg.append("rect").attr("x", 23).attr("y", 22).attr("width", 14).attr("height", 5).attr("rx", 2.5).attr("fill", "#d0d0d0")
svg.append("text").attr("x", 53.5).attr("y", 24).attr("dy", "0.36em").attr("text-anchor", "middle")
  .attr("font-size", 15).attr("fill", "#ffa726").text("D")

const headerParts = [
  [78, "始値", LABEL], [112, "802", UP], [149, "高値", LABEL], [183, "958", UP],
  [218, "安値", LABEL], [253, "791", UP], [288, "終値", LABEL], [323, "958", UP],
  [359, "+150", UP], [401, "(+18.56%)", UP], [481, "出来高", LABEL], [534, "120.9 K", UP],
  [596, "+150", UP], [638, "(+18.56%)", UP]]
svg.append("g").selectAll("text").data(headerParts).join("text")
  .attr("x", d => d[0]).attr("y", 25).attr("dy", "0.36em")
  .attr("font-size", 16.5).attr("fill", d => d[2]).text(d => d[1])

// sell / buy buttons
const buttons = [[16, "958", "売り", "#b02a3a", "#f23645"], [102, "958", "買い", "#1c46b0", "#2962ff"]]
buttons.forEach(b => {
  svg.append("rect").attr("x", b[0] + 0.5).attr("y", 45.5).attr("width", 57).attr("height", 44).attr("rx", 7)
    .attr("fill", "#141414").attr("stroke", b[3]).attr("stroke-width", 1.2)
  svg.append("text").attr("x", b[0] + 29).attr("y", 59).attr("dy", "0.36em").attr("text-anchor", "middle")
    .attr("font-size", 15).attr("font-weight", 500).attr("fill", b[4]).text(b[1])
  svg.append("text").attr("x", b[0] + 29).attr("y", 77).attr("dy", "0.36em").attr("text-anchor", "middle")
    .attr("font-size", 15).attr("fill", b[3]).text(b[2])
})
svg.append("text").attr("x", 88).attr("y", 67).attr("dy", "0.36em").attr("text-anchor", "middle")
  .attr("font-size", 14).attr("fill", "#d0d0d0").text("0")

/* LEGEND */
function eyeOff(cx, cy) {
  const g = svg.append("g").attr("transform", `translate(${cx},${cy})`)
    .attr("fill", "none").attr("stroke", "#777").attr("stroke-width", 1.3)
  g.append("ellipse").attr("rx", 10).attr("ry", 6.5)
  g.append("circle").attr("r", 3)
  g.append("line").attr("x1", -6).attr("y1", 9).attr("x2", 7).attr("y2", -9)
}
const legends = [
  [111, "VWAP", GREY, 82], [143, "当日VWAP基準 ローソク足カラー", GREY, 293], [174, "VRVP", GREY, 78],
  [206, "移動平均線 (MACDアラート専用)", "#e8e8e8", null], [238, "日本株 ストップ高マーカー（日足基準）", GREY, 351]]
legends.forEach(l => {
  svg.append("text").attr("x", 16).attr("y", l[0]).attr("dy", "0.36em")
    .attr("font-size", 16.5).attr("fill", l[2]).text(l[1])
  if (l[3]) eyeOff(l[3], l[0])
})
svg.append("rect").attr("x", 16.5).attr("y", 256.5).attr("width", 38).attr("height", 26).attr("rx", 4)
  .attr("fill", "#0a0a0a").attr("stroke", "#2a2a2a")
svg.append("path").attr("d", "M30,273l5,-5l5,5").attr("fill", "none").attr("stroke", "#ddd").attr("stroke-width", 1.6)

// pane titles
const titles = [
  [565, "売買代金（日中足合計・過去表示対応・億円）"], [742, "売買代金回転率"], [851, "RSI-BB"],
  [974, "P/E ratio"], [1084, "P/S ratio"], [1193, "P/B ratio"]]
svg.append("g").selectAll("text").data(titles).join("text")
  .attr("x", 16).attr("y", d => d[0]).attr("dy", "0.36em")
  .attr("font-size", 16.5).attr("fill", LABEL).text(d => d[1])
</script>
</body>
</html>
